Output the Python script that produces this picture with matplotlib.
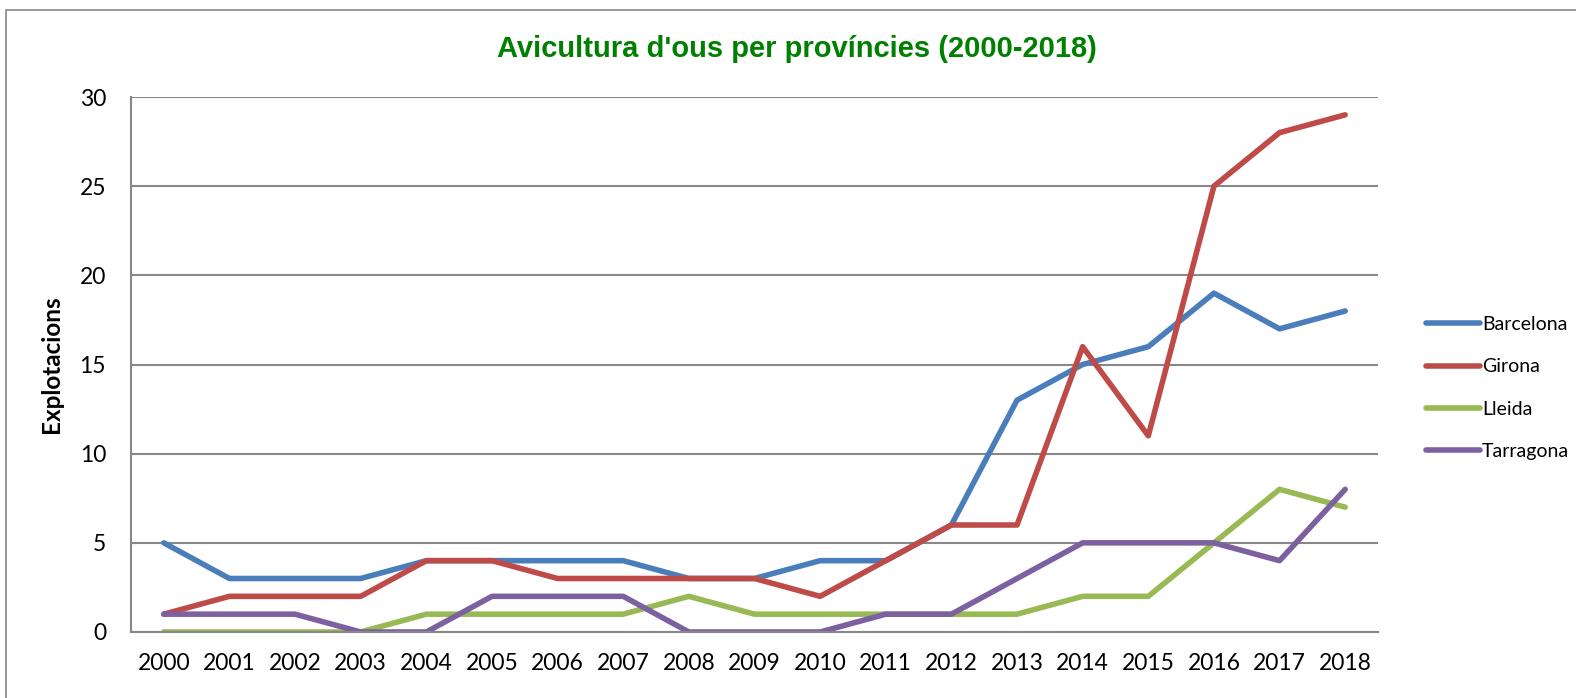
import matplotlib
matplotlib.use("Agg")
import matplotlib.pyplot as plt
from matplotlib.patches import Rectangle

years = [str(y) for y in range(2000, 2019)]
barcelona = [5, 3, 3, 3, 4, 4, 4, 4, 3, 3, 4, 4, 6, 13, 15, 16, 19, 17, 18]
girona = [1, 2, 2, 2, 4, 4, 3, 3, 3, 3, 2, 4, 6, 6, 16, 11, 25, 28, 29]
lleida = [0, 0, 0, 0, 1, 1, 1, 1, 2, 1, 1, 1, 1, 1, 2, 2, 5, 8, 7]
tarragona = [1, 1, 1, 0, 0, 2, 2, 2, 0, 0, 0, 1, 1, 3, 5, 5, 5, 4, 8]

series = [("Barcelona", barcelona, "#4A7EBB"),
          ("Girona", girona, "#BE4B48"),
          ("Lleida", lleida, "#98B954"),
          ("Tarragona", tarragona, "#7D60A0")]

plt.rcParams['font.family'] = ['Lato', 'DejaVu Sans']

W, H = 1576, 698
fig = plt.figure(figsize=(W / 100, H / 100), dpi=100)
fig.patches.append(Rectangle((6 / W, -0.1), 1.2, (1 - 10 / H) + 0.1, transform=fig.transFigure,
                             fill=False, edgecolor="#888888", linewidth=1.2))

ax = fig.add_axes([131 / W, 1 - 632 / H, 1247 / W, 535 / H])
x = list(range(len(years)))
for name, vals, col in series:
    ax.plot(x, vals, color=col, linewidth=4.0, label=name, solid_capstyle='round', solid_joinstyle='round')

ax.set_xlim(-0.5, len(years) - 0.5)
ax.set_ylim(0, 30)
ax.set_yticks(range(0, 31, 5))
ax.set_xticks(x)
ax.set_xticklabels(years)
ax.yaxis.grid(True, color="#888888", linewidth=1.5)
ax.set_axisbelow(True)
for s in ["top", "right"]:
    ax.spines[s].set_visible(False)
for s in ["left", "bottom"]:
    ax.spines[s].set_color("#888888")
    ax.spines[s].set_linewidth(1.5)
ax.tick_params(axis='both', length=0, labelsize=16.5, colors='black')
ax.tick_params(axis='y', pad=18)
ax.tick_params(axis='x', pad=15)

ax.set_ylabel("Explotacions", fontsize=17.5, fontweight='bold', labelpad=12)

fig.text(0.5055, 1 - 49 / H, "Avicultura d'ous per províncies (2000-2018)",
         ha='center', va='center', fontsize=21, fontweight='bold', color='#008000',
         family=['Liberation Sans', 'DejaVu Sans'])

leg = fig.legend(loc='center left', bbox_to_anchor=(1408 / W, 1 - 388 / H), frameon=False,
                 fontsize=14, handlelength=2.8, labelspacing=1.3, handletextpad=0.1)

fig.savefig("out.png", dpi=100, facecolor='white')
